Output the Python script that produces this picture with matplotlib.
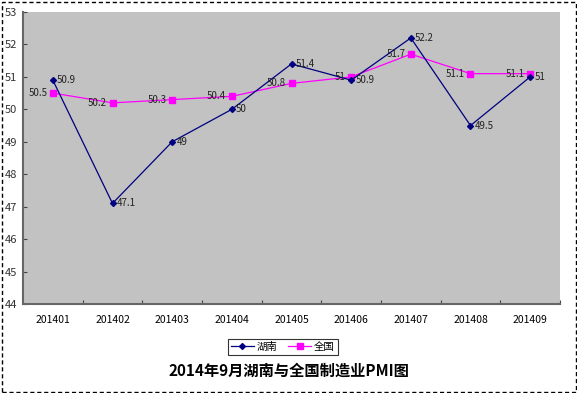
import matplotlib
matplotlib.use("Agg")
import matplotlib.pyplot as plt
from matplotlib.patches import Rectangle

plt.rcParams['font.family'] = ['Noto Sans CJK SC', 'DejaVu Sans']

months = ['201401', '201402', '201403', '201404', '201405',
          '201406', '201407', '201408', '201409']
hunan = [50.9, 47.1, 49.0, 50.0, 51.4, 50.9, 52.2, 49.5, 51.0]
quanguo = [50.5, 50.2, 50.3, 50.4, 50.8, 51.0, 51.7, 51.1, 51.1]
hunan_labels = ['50.9', '47.1', '49', '50', '51.4', '50.9', '52.2', '49.5', '51']
quanguo_labels = ['50.5', '50.2', '50.3', '50.4', '50.8', '51', '51.7', '51.1', '51.1']

fig = plt.figure(figsize=(5.77, 3.93), dpi=100)
ax = fig.add_axes([23 / 577, 89 / 393, 537 / 577, 292 / 393])

x = list(range(len(months)))
# dotted grey fill of the original, averaged to one flat tone
ax.set_facecolor('#c2c2c2')

ax.plot(x, hunan, color='#000080', lw=0.9, marker='D', ms=3,
        label='湖南', zorder=3)
ax.plot(x, quanguo, color='#ff00ff', lw=0.9, marker='s', ms=4.5,
        label='全国', zorder=2)

for i in x:
    ax.annotate(hunan_labels[i], (i, hunan[i]), xytext=(3, 0),
                textcoords='offset points', ha='left', va='center',
                fontsize=7, color='#222222', zorder=4)
    ax.annotate(quanguo_labels[i], (i, quanguo[i]), xytext=(-4, 0),
                textcoords='offset points', ha='right', va='center',
                fontsize=7, color='#222222', zorder=4)

ax.set_xlim(-0.5, len(months) - 0.5)
ax.set_ylim(44, 53)
ax.set_yticks(range(44, 54))
ax.set_xticks([i + 0.5 for i in x], minor=False)
ax.set_xticklabels([])
ax.set_xticks(x, minor=True)
ax.set_xticklabels(months, minor=True, fontsize=7.5)
ax.tick_params(axis='x', which='major', direction='in', length=3, color='#444444')
ax.tick_params(axis='x', which='minor', length=0, pad=8)
ax.tick_params(axis='y', direction='in', length=3, labelsize=8, pad=4,
               color='#444444', labelcolor='#333333')
for side in ['top', 'right']:
    ax.spines[side].set_visible(False)
ax.spines['left'].set_color('#666666')
ax.spines['bottom'].set_color('#666666')
ax.spines['left'].set_linewidth(1.5)
ax.spines['bottom'].set_linewidth(1.5)

leg = fig.legend(loc='center', bbox_to_anchor=(283 / 577, 1 - 347 / 393),
                 ncol=2, fontsize=7.5, frameon=True, fancybox=False,
                 handlelength=2.2, columnspacing=1.0, borderpad=0.3,
                 handletextpad=0.3)
leg.get_frame().set_edgecolor('black')
leg.get_frame().set_linewidth(0.8)

fig.text(0.5, 1 - 371 / 393, '2014年9月湖南与全国制造业PMI图', ha='center',
         va='center', fontsize=11, fontweight='bold')

fig.add_artist(Rectangle((1.5 / 577, 1.5 / 393), 574 / 577, 390 / 393,
                         transform=fig.transFigure, fill=False,
                         ls=(0, (3, 2)), lw=1, color='black'))

fig.savefig('out.png', dpi=100)
